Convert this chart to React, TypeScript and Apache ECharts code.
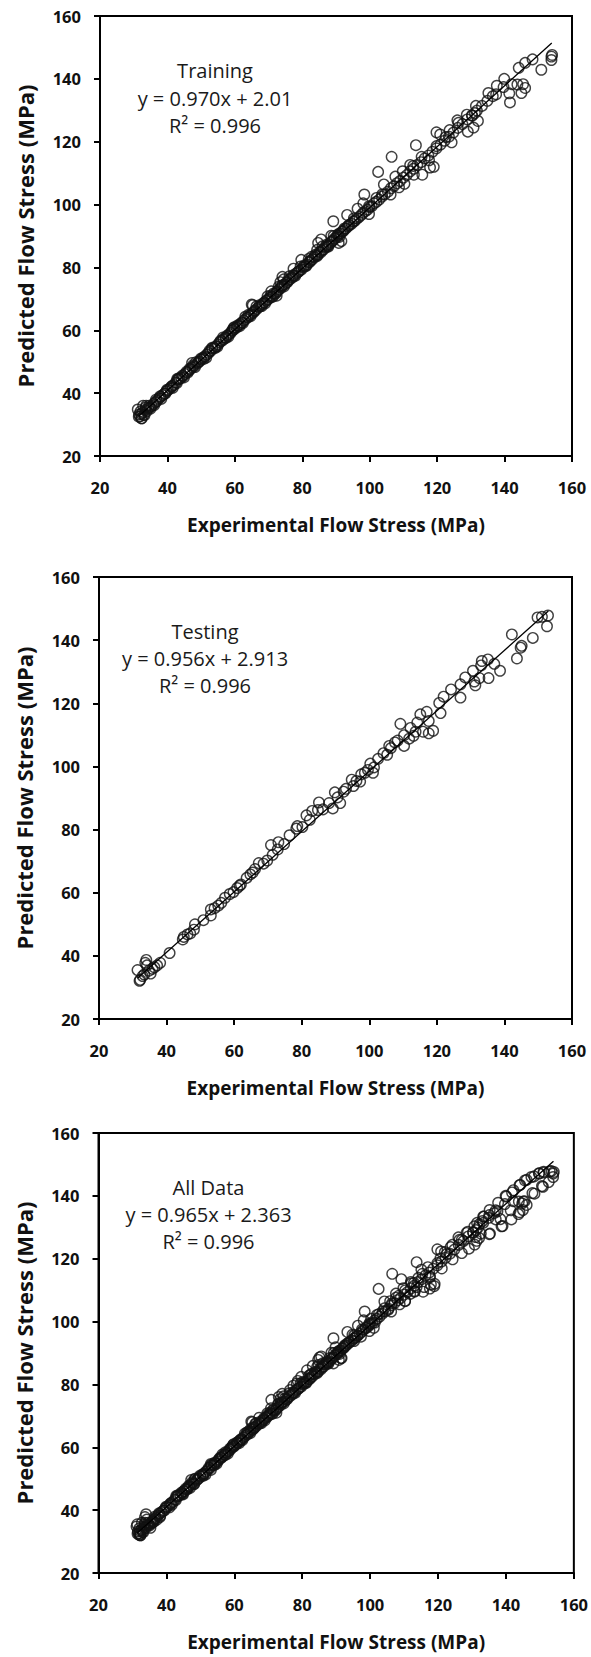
import React, { useEffect, useRef } from "react";
import * as echarts from "echarts";

const FONT = '"Open Sans", "Noto Sans", sans-serif';

// Training data: dense band along the fit line
const trainingBand: number[][] = [
  [31.6, 33.2], [31.9, 32.6], [32.2, 33.4], [32.4, 32.0], [32.7, 33.9], [33.0, 33.1], [33.4, 34.6], [33.9, 34.3],
  [34.3, 35.2], [34.8, 35.5], [35.3, 35.9], [35.9, 36.6], [36.4, 37.1], [36.9, 37.5], [37.5, 38.3], [38.0, 38.8],
  [38.6, 39.4], [39.1, 39.8], [39.7, 40.6], [40.2, 41.0], [40.8, 41.5], [41.4, 42.3], [41.9, 42.6], [42.5, 43.4],
  [43.0, 44.2], [43.5, 44.5], [44.1, 44.9], [44.6, 45.4], [45.2, 46.1], [45.7, 46.8], [46.3, 47.1], [46.8, 47.6],
  [47.4, 48.2], [47.9, 48.6], [48.4, 49.8], [48.9, 49.5], [49.5, 50.1], [50.0, 50.7], [50.6, 51.3], [51.1, 51.7],
  [51.7, 52.3], [52.2, 52.8], [52.8, 53.4], [53.3, 54.2], [53.9, 54.5], [54.4, 54.9], [55.0, 55.5], [55.5, 56.2],
  [56.1, 56.6], [56.6, 57.1], [57.2, 57.7], [57.7, 58.3], [58.3, 58.8], [58.8, 59.2], [59.4, 60.1], [59.9, 60.4],
  [60.5, 60.9], [61.0, 61.4], [61.6, 62.0], [62.1, 62.5], [62.7, 63.1], [63.2, 63.6], [63.8, 64.1], [64.3, 64.6],
  [64.9, 65.2], [65.4, 65.6], [65.3, 68.0], [66.0, 66.3], [66.5, 66.8], [67.1, 67.4], [67.6, 67.7], [68.2, 68.4],
  [68.7, 68.9], [69.3, 69.4], [69.8, 69.8], [70.4, 70.4], [70.9, 70.6], [71.5, 71.7], [72.0, 71.6], [72.6, 72.5],
  [73.1, 73.0], [73.7, 73.5], [74.2, 74.4], [74.5, 76.2], [74.8, 74.6], [75.3, 75.1], [75.9, 76.0], [76.4, 76.3],
  [77.0, 76.8], [77.5, 77.3], [78.1, 78.0], [78.6, 78.4], [79.2, 79.0], [79.7, 79.3], [80.3, 80.1], [80.8, 80.4],
  [81.4, 80.9], [81.9, 81.7], [82.5, 82.2], [83.0, 82.6], [83.6, 83.3], [84.1, 83.8], [84.7, 84.1], [85.2, 85.0],
  [85.8, 85.4], [86.3, 85.7], [86.9, 86.5], [87.4, 86.9], [88.0, 87.4], [88.5, 88.0], [89.1, 88.6], [89.6, 89.2],
  [90.2, 89.6], [90.7, 90.1], [91.3, 90.8], [91.8, 91.4], [92.4, 91.9], [92.9, 92.4], [93.5, 93.0], [94.0, 93.5],
  [94.6, 93.9], [95.1, 94.6], [95.7, 95.0], [96.3, 95.6], [96.9, 96.1], [97.5, 96.7], [98.1, 97.4], [98.7, 97.9],
  [99.4, 98.4], [100.0, 99.2], [100.6, 99.5], [101.3, 100.4], [102.0, 100.9], [102.8, 101.6], [103.6, 102.5],
  [104.5, 103.3], [105.4, 104.1], [106.3, 105.2], [107.2, 105.9], [108.1, 106.8], [109.0, 107.5], [110.0, 108.6],
  [111.0, 109.4], [112.0, 110.6], [113.0, 111.4], [114.1, 112.6], [115.2, 113.5], [116.3, 114.7], [117.4, 115.6],
  [118.6, 116.8], [119.8, 117.9], [121.0, 119.1], [122.2, 120.3], [123.5, 121.6], [124.8, 122.9], [126.1, 124.4],
  [127.5, 125.6], [128.9, 127.1], [130.3, 128.4], [131.8, 129.9], [133.3, 131.4], [134.9, 133.0], [136.5, 134.5],
  [32.0, 34.2], [33.2, 33.0], [34.6, 36.0], [36.1, 36.2], [37.8, 39.0], [39.4, 39.9], [41.1, 42.0], [42.8, 43.2],
  [44.4, 45.6], [46.0, 46.5], [47.6, 48.9], [49.2, 49.9], [50.8, 50.9], [52.5, 53.5], [54.1, 54.3], [55.8, 56.7],
  [57.4, 57.6], [59.1, 59.8], [60.7, 61.5], [62.4, 62.3], [64.0, 64.9], [65.7, 66.0], [67.3, 68.0], [69.0, 68.6],
  [70.6, 71.0], [72.3, 72.0], [73.9, 74.2], [75.6, 75.4], [77.2, 77.5], [78.9, 78.7], [80.5, 80.6], [82.2, 81.7],
  [83.8, 84.0], [85.5, 84.8], [87.1, 87.2], [88.8, 88.3], [90.4, 90.3], [92.1, 91.5], [93.7, 93.4], [95.4, 94.7],
  [33.5, 35.4], [35.0, 35.1], [36.6, 37.9], [38.2, 38.2], [39.9, 41.1], [41.6, 41.7], [43.3, 44.7], [44.9, 45.0],
  [46.6, 47.8], [48.2, 48.3], [49.9, 51.0], [51.5, 51.3], [53.2, 54.4], [54.8, 54.8], [56.5, 57.7], [58.1, 58.0],
  [59.8, 61.0], [61.4, 61.3], [63.1, 64.3], [64.7, 64.5], [66.4, 67.6], [68.0, 67.7], [69.7, 70.8], [71.3, 70.7],
  [73.0, 73.9], [74.6, 74.0], [76.2, 77.2], [77.9, 77.3], [79.5, 80.3], [81.1, 80.4], [82.8, 83.4], [84.4, 83.6],
  [86.0, 86.7], [87.7, 86.6], [89.3, 90.0], [91.0, 89.7],
];

// Training data: scattered points off the band
const trainingScatter: number[][] = [
  [153.9, 147.1], [153.9, 146.0], [154.1, 147.6], [150.9, 142.9], [148.3, 146.2], [146.1, 145.1], [144.2, 143.5],
  [146.1, 137.1], [145.5, 138.3], [145.0, 135.5], [143.8, 138.2], [142.1, 138.3], [141.4, 135.4], [141.6, 132.5],
  [139.9, 140.0], [139.7, 137.4], [137.7, 137.8], [137.5, 135.1], [135.2, 135.5], [131.5, 131.4], [131.2, 129.1],
  [130.4, 128.3], [132.1, 126.6], [130.8, 124.5], [129.1, 123.2], [128.8, 128.6], [126.3, 126.0], [126.0, 126.8],
  [124.3, 119.8], [123.7, 123.7], [122.6, 121.5], [120.9, 122.3], [119.8, 123.0], [119.8, 118.6], [119.0, 112.0],
  [117.9, 111.8], [117.6, 114.1], [115.6, 109.5], [115.4, 115.2], [113.7, 118.9], [113.1, 109.5], [112.9, 112.3],
  [112.0, 112.6], [110.3, 106.6], [109.8, 110.6], [108.7, 105.5], [107.6, 108.9], [106.5, 115.2], [106.2, 103.2],
  [104.2, 106.4], [102.5, 110.4], [103.7, 103.2], [102.0, 102.1], [99.8, 99.5], [98.4, 103.2], [99.8, 97.0],
  [98.1, 100.4], [96.4, 98.7], [93.3, 96.7], [95.3, 95.6], [92.5, 92.4], [89.2, 94.7], [90.8, 90.7], [90.8, 87.8],
  [88.6, 90.1], [87.5, 86.7], [84.7, 87.8], [84.4, 85.6], [81.9, 82.7], [79.7, 82.4], [77.4, 79.6], [74.1, 77.0],
  [73.5, 75.3], [70.8, 72.4], [65.0, 68.2], [59.6, 60.7], [47.3, 49.6], [42.9, 44.5], [32.8, 36.0], [31.2, 34.8],
  [31.5, 32.5], [32.3, 32.0], [33.7, 36.0], [91.6, 88.4], [85.6, 88.9], [72.4, 71.0],
];

// Testing data
const testingPoints: number[][] = [
  [152.9, 147.8], [151.1, 147.4], [149.8, 147.2], [152.6, 144.4], [148.4, 140.7], [145.1, 138.2], [144.8, 137.6],
  [142.2, 141.8], [143.7, 134.2], [138.7, 130.3], [137.0, 132.5], [135.1, 133.9], [135.3, 128.0], [133.3, 133.4],
  [133.1, 132.0], [132.6, 128.0], [131.4, 125.7], [130.7, 130.3], [131.1, 126.9], [128.4, 128.2], [127.0, 126.0],
  [127.0, 121.8], [124.2, 124.4], [122.0, 122.1], [120.7, 120.1], [121.1, 116.9], [117.0, 117.3], [115.1, 116.5],
  [117.6, 114.4], [118.9, 111.3], [117.6, 110.5], [115.9, 111.0], [114.2, 113.9], [113.7, 111.0], [113.1, 109.7],
  [112.2, 112.2], [111.8, 108.8], [110.3, 109.9], [109.2, 113.5], [110.3, 106.5], [108.4, 108.2], [107.6, 107.6],
  [105.9, 106.5], [105.3, 103.7], [104.2, 104.2], [101.4, 99.7], [101.1, 98.0], [100.3, 100.9], [98.7, 98.0],
  [97.6, 97.5], [97.3, 95.2], [94.8, 95.8], [95.3, 93.8], [93.1, 92.9], [91.4, 88.4], [89.8, 91.8], [89.2, 86.7],
  [88.1, 88.4], [85.1, 88.6], [84.8, 86.2], [83.1, 85.9], [81.4, 84.5], [78.7, 81.1], [78.4, 80.3], [76.4, 78.2],
  [74.8, 75.4], [73.1, 76.0], [72.9, 73.7], [70.9, 75.1], [71.4, 72.0], [68.7, 69.2], [67.3, 69.4], [66.2, 67.5],
  [64.8, 65.8], [63.7, 64.7], [62.0, 62.6], [60.9, 61.5], [58.7, 59.6], [57.3, 58.4], [56.2, 56.8], [54.2, 55.1],
  [53.1, 54.7], [53.1, 52.8], [50.9, 51.3], [48.4, 50.0], [48.1, 48.3], [47.0, 47.1], [46.2, 46.8], [45.1, 46.0],
  [44.8, 45.2], [40.9, 40.9], [38.1, 37.8], [36.4, 36.4], [34.0, 38.7], [33.7, 37.8], [34.2, 37.0], [34.8, 35.3],
  [35.3, 34.4], [31.4, 35.5], [32.2, 32.4], [32.9, 33.6], [33.4, 34.1], [32.0, 32.1], [35.8, 35.9], [37.2, 37.0],
  [55.3, 55.9], [59.8, 60.2], [61.6, 62.2], [65.5, 66.4], [69.8, 70.2], [80.2, 80.8], [82.4, 83.1], [86.3, 86.4],
  [90.6, 90.2], [92.4, 92.0], [96.2, 95.4], [99.6, 98.9], [102.6, 102.4], [106.4, 105.8],
];

// Points visible only in the All Data panel
const allDataExtra: number[][] = [
  [140.1, 139.8], [141.8, 141.1], [144.0, 143.4], [145.6, 144.9], [147.5, 146.0], [149.7, 147.1], [151.1, 147.7],
  [153.4, 147.9], [147.8, 140.9], [150.6, 143.1], [144.0, 134.8], [139.0, 130.4], [135.1, 127.8], [138.4, 132.6],
  [137.0, 135.4], [133.5, 133.4], [132.2, 131.0],
];

const trainingFit: number[][] = [[31.6, 32.7], [154.0, 151.4]];
const testingFit: number[][] = [[31.4, 32.9], [153.0, 149.2]];
const allDataFit: number[][] = [[31.4, 32.7], [154.0, 151.0]];

const panelTitles = ["Training", "Testing", "All Data"];
const equations = ["y = 0.970x + 2.01", "y = 0.956x + 2.913", "y = 0.965x + 2.363"];
const r2Labels = ["R\u00B2 = 0.996", "R\u00B2 = 0.996", "R\u00B2 = 0.996"];

const xAxisTitle = "Experimental Flow Stress (MPa)";
const yAxisTitle = "Predicted Flow Stress (MPa)";

const grids = [
  { left: 100, top: 16, width: 472, height: 440 },
  { left: 99, top: 577, width: 473, height: 442 },
  { left: 98.5, top: 1133, width: 475.5, height: 440 },
];
const annotationPos = [
  { x: 215, y: [70, 98, 125] },
  { x: 205, y: [631, 658, 685] },
  { x: 208.5, y: [1187, 1214, 1241] },
];

export default function App() {
  const ref = useRef<HTMLDivElement>(null);

  useEffect(() => {
    document.body.style.margin = "0";
    if (!ref.current) return;
    const chart = echarts.init(ref.current, undefined, { renderer: "svg" });

    const panelData = [trainingBand.concat(trainingScatter), testingPoints,
      trainingBand.concat(trainingScatter, testingPoints, allDataExtra)];
    const fits = [trainingFit, testingFit, allDataFit];

    const axisCommon = {
      type: "value" as const,
      min: 20,
      max: 160,
      interval: 20,
      axisLine: { onZero: false, lineStyle: { color: "#000", width: 2 } },
      axisTick: { inside: false, length: 6, lineStyle: { color: "#000", width: 2 } },
      splitLine: { show: false },
      nameLocation: "middle" as const,
    };

    const xAxes = grids.map((_, i) => ({
      ...axisCommon,
      gridIndex: i,
      name: xAxisTitle,
      nameGap: 59,
      nameTextStyle: { fontFamily: FONT, fontWeight: "bold", fontSize: 19, color: "#111" },
      axisLabel: { margin: 23, fontFamily: FONT, fontWeight: "bold", fontSize: 16.5, color: "#111" },
    }));
    const yAxes = grids.map((_, i) => ({
      ...axisCommon,
      gridIndex: i,
      name: yAxisTitle,
      nameGap: 64,
      nameTextStyle: { fontFamily: FONT, fontWeight: "bold", fontSize: 22, color: "#111" },
      axisLabel: { margin: 19, fontFamily: FONT, fontWeight: "bold", fontSize: 16.5, color: "#111" },
    }));

    const series: any[] = [];
    grids.forEach((_, i) => {
      series.push({
        type: "scatter",
        xAxisIndex: i,
        yAxisIndex: i,
        data: panelData[i],
        symbol: "circle",
        symbolSize: 10.5,
        itemStyle: { color: "rgba(0,0,0,0)", borderColor: "#111", borderWidth: 1.4 },
        z: 2,
      });
      series.push({
        type: "line",
        xAxisIndex: i,
        yAxisIndex: i,
        data: fits[i],
        symbol: "none",
        lineStyle: { color: "#000", width: 1.3 },
        z: 3,
      });
    });

    const graphic: any[] = [];
    annotationPos.forEach((p, i) => {
      [panelTitles[i], equations[i], r2Labels[i]].forEach((t, k) => {
        graphic.push({
          type: "text",
          x: p.x,
          y: p.y[k],
          style: {
            text: t,
            font: `20px ${FONT}`,
            fill: "#1a1a1a",
            align: "center",
            verticalAlign: "middle",
            textAlign: "center",
            textVerticalAlign: "middle",
          },
        });
      });
    });

    chart.setOption({
      animation: false,
      backgroundColor: "#fff",
      grid: grids.map((g) => ({ ...g, show: true, borderColor: "#000", borderWidth: 2, containLabel: false })),
      xAxis: xAxes,
      yAxis: yAxes,
      series,
      graphic,
    });

    return () => chart.dispose();
  }, []);

  return <div ref={ref} style={{ width: 591, height: 1657 }} />;
}
